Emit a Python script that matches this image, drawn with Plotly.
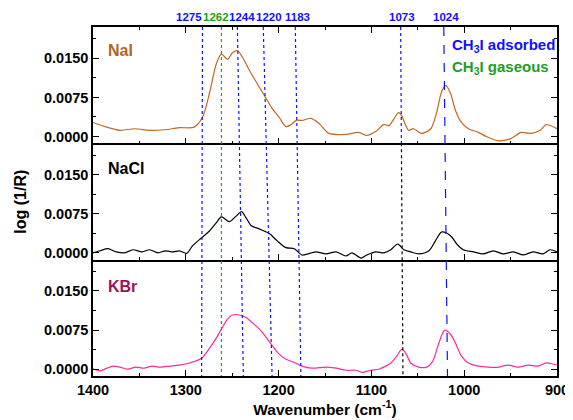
import plotly.graph_objects as go
from plotly.subplots import make_subplots

# ---- data ----
nai_wn = [1400, 1387, 1371, 1355, 1339, 1323, 1307, 1291, 1282, 1274.5, 1267, 1261.6, 1255, 1250, 1244.4,
          1239, 1231.5, 1224, 1215.4, 1207, 1199.4, 1192, 1186.5, 1181, 1174.7, 1165, 1156.4, 1145.7, 1127.5,
          1113.5, 1105, 1095, 1086.7, 1081, 1076, 1070.6, 1067.4, 1063, 1060, 1054.5, 1046, 1036, 1030, 1024.5,
          1020, 1014.8, 1009.4, 1003, 995.5, 984.7, 976, 963, 950, 938.6, 928, 918, 911.8, 902, 900]
nai_val = [0.0027, 0.0019, 0.0012, 0.0015, 0.0012, 0.0013, 0.0017, 0.0018, 0.0037, 0.0083, 0.0140, 0.0158,
           0.0148, 0.0160, 0.0165, 0.0152, 0.0127, 0.0104, 0.0079, 0.0054, 0.0037, 0.0019, 0.0023, 0.0031,
           0.0031, 0.0035, 0.0025, 0.0006, 0.0004, 0.0008, 0.0002, 0.0010, 0.0023, 0.0021, 0.0033, 0.0046,
           0.0040, 0.0021, 0.0012, 0.0015, 0.0006, 0.0015, 0.0044, 0.0085, 0.0098, 0.0083, 0.0050, 0.0027,
           0.0015, 0.0008, 0.0000, -0.0008, -0.0004, 0.0008, 0.0006, 0.0012, 0.0023, 0.0017, 0.0015]

nacl_wn = [1400, 1392.5, 1384, 1375, 1366, 1357, 1347, 1339, 1330, 1322, 1314, 1307, 1299, 1293, 1283, 1274.5,
           1267, 1261.6, 1253, 1245.5, 1240, 1235, 1229.4, 1221, 1210, 1201.5, 1192, 1183, 1174.7, 1160, 1149,
           1138, 1127.5, 1121, 1111, 1105, 1095, 1086.7, 1079, 1071.7, 1065, 1057.7, 1049, 1038, 1031, 1024.5,
           1019, 1013.7, 1008, 1001, 990, 979.4, 968.6, 958, 947, 936.5, 925.7, 915, 907.5, 900]
nacl_val = [0.0000, 0.0004, 0.0008, 0.0002, 0.0000, 0.0006, 0.0002, 0.0006, 0.0000, 0.0004, 0.0002, 0.0004,
            -0.0001, 0.0013, 0.0029, 0.0042, 0.0058, 0.0069, 0.0060, 0.0071, 0.0079, 0.0067, 0.0052, 0.0046,
            0.0037, 0.0023, 0.0010, 0.0008, -0.0004, 0.0002, -0.0002, 0.0002, -0.0006, 0.0000, -0.0010,
            -0.0004, 0.0002, 0.0000, 0.0006, 0.0017, 0.0006, 0.0002, -0.0002, 0.0004, 0.0023, 0.0040, 0.0038,
            0.0031, 0.0017, 0.0006, 0.0002, -0.0002, 0.0004, -0.0002, 0.0002, -0.0004, 0.0002, -0.0002,
            0.0006, 0.0002]

kbr_wn = [1400, 1392.5, 1385, 1378.5, 1371, 1362.4, 1354, 1345, 1336.7, 1328, 1317, 1307, 1296, 1283, 1274.5,
          1267, 1261.6, 1255, 1250, 1242, 1235, 1228.3, 1218.7, 1208, 1199.4, 1192, 1183, 1174.7, 1164, 1149,
          1138, 1127.5, 1116.7, 1110, 1100.6, 1092, 1086.7, 1079, 1072.7, 1067.4, 1063, 1057.7, 1049, 1040.5,
          1034, 1027.7, 1021, 1014.8, 1009.4, 1003, 995.5, 984.7, 974, 963, 952.6, 942, 931, 920.4, 911.8,
          904.3, 900]
kbr_val = [0.0001, -0.0003, 0.0002, 0.0006, 0.0004, 0.0000, 0.0004, 0.0002, 0.0006, 0.0004, 0.0006, 0.0008,
           0.0012, 0.0021, 0.0040, 0.0060, 0.0077, 0.0096, 0.0104, 0.0104, 0.0099, 0.0089, 0.0073, 0.0048,
           0.0029, 0.0019, 0.0013, 0.0006, 0.0002, 0.0004, 0.0002, -0.0002, -0.0002, -0.0006, -0.0002, 0.0000,
           0.0004, 0.0012, 0.0025, 0.0038, 0.0031, 0.0012, 0.0004, 0.0004, 0.0015, 0.0048, 0.0075, 0.0067,
           0.0050, 0.0025, 0.0012, 0.0006, 0.0004, 0.0004, 0.0008, 0.0004, 0.0008, 0.0006, 0.0012, 0.0010,
           0.0008]

sample_names = ["NaI", "NaCl", "KBr"]
peak_labels = ["1275", "1262", "1244", "1220", "1183", "1073", "1024"]
peak_label_pos = [1297, 1268, 1239, 1210, 1180, 1067, 1020]
line_top = [1282, 1261.6, 1244.4, 1216.5, 1182, 1068.5, 1022]
line_bot = [1283, 1261.6, 1238, 1207, 1176, 1066, 1018]

y_ticks = [0.0, 0.0075, 0.0150]

# ---- styling ----
FONT = "Liberation Sans, Arial, sans-serif"
BLUE = "#1010ff"
GREEN = "#20a020"
colors = ["#c06a22", "#000000", "#ff2a9a"]
label_colors = ["#b5651d", "#000000", "#a0105a"]

fig = make_subplots(rows=3, cols=1, shared_xaxes=True, vertical_spacing=0)

series = [(nai_wn, nai_val), (nacl_wn, nacl_val), (kbr_wn, kbr_val)]
for i, (wn, val) in enumerate(series):
    fig.add_trace(go.Scatter(x=wn, y=val, mode="lines",
                             line=dict(color=colors[i], width=1.2, shape="spline", smoothing=0.8),
                             showlegend=False), row=i + 1, col=1)

for i in range(3):
    fig.update_yaxes(range=[-0.0013, 0.021], tickvals=y_ticks, tickformat=".4f",
                     ticks="inside", ticklen=6, tickwidth=1.2, tickcolor="black",
                     minor=dict(ticks="inside", ticklen=3, dtick=0.00375, tick0=0, tickcolor="black"),
                     showline=True, linecolor="black", linewidth=1.5, mirror="ticks",
                     showgrid=False, zeroline=False,
                     tickfont=dict(family=FONT, size=14.5, color="black", weight="bold"),
                     row=i + 1, col=1)
    fig.update_xaxes(range=[1400, 900], dtick=100, tick0=900,
                     ticks="inside", ticklen=6, tickwidth=1.2, tickcolor="black",
                     minor=dict(ticks="inside", ticklen=3, dtick=50, tickcolor="black"),
                     showline=True, linecolor="black", linewidth=1.5,
                     mirror="ticks" if i == 0 else False,
                     showgrid=False, zeroline=False,
                     tickfont=dict(family=FONT, size=14.5, color="black", weight="bold"),
                     row=i + 1, col=1)

fig.update_xaxes(title=dict(text="Wavenumber (cm<sup>-1</sup>)", standoff=2,
                            font=dict(family=FONT, size=15.5, color="black", weight="bold")),
                 row=3, col=1)

# reference lines spanning all panels
for k, lab in enumerate(peak_labels):
    col = GREEN if lab == "1262" else BLUE
    dash = "dash" if lab == "1024" else "dot"
    if lab == "1073":
        # blue in top panel, black below
        xm = line_top[k] + (line_bot[k] - line_top[k]) * (1 / 3)
        fig.add_shape(type="line", xref="x", yref="paper", x0=line_top[k], x1=xm, y0=1, y1=2 / 3,
                      line=dict(color=BLUE, width=1.2, dash=dash))
        fig.add_shape(type="line", xref="x", yref="paper", x0=xm, x1=line_bot[k], y0=2 / 3, y1=0,
                      line=dict(color="black", width=1.2, dash=dash))
    else:
        fig.add_shape(type="line", xref="x", yref="paper", x0=line_top[k], x1=line_bot[k], y0=1, y1=0,
                      line=dict(color=col, width=1.2, dash=dash))
    fig.add_annotation(x=peak_label_pos[k], xref="x", y=1.0, yref="paper", yanchor="bottom",
                       yshift=2, text=lab, showarrow=False,
                       font=dict(family=FONT, size=11.5, color=col, weight="bold"))

# panel labels
doms = [("x domain", "y domain", 0.80), ("x2 domain", "y2 domain", 0.78), ("x3 domain", "y3 domain", 0.77)]
for i, (xr, yr, yy) in enumerate(doms):
    fig.add_annotation(x=0.028, xref=xr, y=yy, yref=yr, xanchor="left", yanchor="middle",
                       text=sample_names[i], showarrow=False,
                       font=dict(family=FONT, size=16, color=label_colors[i], weight="bold"))

# legend-like text
fig.add_annotation(x=1015, xref="x", y=0.948, yref="paper", xanchor="left", yanchor="middle",
                   text="CH<sub>3</sub>I adsorbed", showarrow=False,
                   font=dict(family=FONT, size=15, color=BLUE, weight="bold"))
fig.add_annotation(x=1015, xref="x", y=0.883, yref="paper", xanchor="left", yanchor="middle",
                   text="CH<sub>3</sub>I gaseous", showarrow=False,
                   font=dict(family=FONT, size=15, color=GREEN, weight="bold"))

# y axis title
fig.add_annotation(x=-0.157, xref="paper", y=0.5, yref="paper", textangle=-90,
                   text="log (1/R)", showarrow=False, xanchor="center", yanchor="middle",
                   font=dict(family=FONT, size=16, color="black", weight="bold"))

# the page adds an 8px body margin; margins compensate for it
fig.update_layout(width=573, height=420, margin=dict(l=85, r=22, t=19, b=52),
                  plot_bgcolor="white", paper_bgcolor="white")

fig.write_html("out.html")
